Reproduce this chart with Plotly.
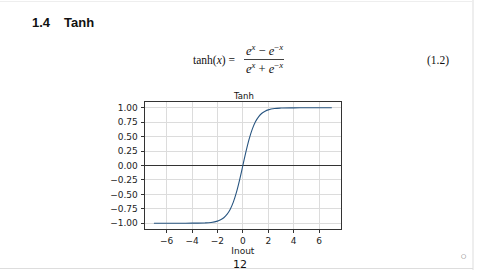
import plotly.graph_objects as go

# Values
x_vals = [-7, -6, -5, -4, -3, -2.5, -2, -1.75, -1.5, -1.25, -1, -0.75, -0.5, -0.25, 0,
          0.25, 0.5, 0.75, 1, 1.25, 1.5, 1.75, 2, 2.5, 3, 4, 5, 6, 7]
y_vals = [-1.0, -1.0, -1.0, -0.999, -0.995, -0.987, -0.964, -0.941, -0.905, -0.848, -0.762,
          -0.635, -0.462, -0.245, 0.0, 0.245, 0.462, 0.635, 0.762, 0.848, 0.905, 0.941,
          0.964, 0.987, 0.995, 0.999, 1.0, 1.0, 1.0]
x_ticks = [-6, -4, -2, 0, 2, 4, 6]
y_ticks = [1.0, 0.75, 0.5, 0.25, 0.0, -0.25, -0.5, -0.75, -1.0]
y_tick_labels = ["1.00", "0.75", "0.50", "0.25", "0.00", "\u22120.25", "\u22120.50", "\u22120.75", "\u22121.00"]
x_tick_labels = ["\u22126", "\u22124", "\u22122", "0", "2", "4", "6"]

W, H = 480, 270
def px(x):
    return x / W
def py(y):
    return 1 - y / H

fig = go.Figure()
fig.add_trace(go.Scatter(x=x_vals, y=y_vals, mode="lines", line=dict(color="#285580", width=1.1, shape="spline"),
                         showlegend=False, hoverinfo="skip"))

tickfont = dict(family="DejaVu Sans", size=9, color="#222")
fig.update_layout(
    width=W, height=H, margin=dict(l=0, r=0, t=0, b=0),
    paper_bgcolor="white", plot_bgcolor="white",
    xaxis=dict(domain=[px(145), px(340.7)], range=[-7.7, 7.7], tickvals=x_ticks, ticktext=x_tick_labels,
               showgrid=True, gridcolor="#dcdcdc", gridwidth=0.8, zeroline=False,
               showline=True, linecolor="#333", linewidth=0.8, mirror=True,
               ticks="outside", ticklen=3.5, tickcolor="#333", tickwidth=0.8,
               tickfont=tickfont,
               title=dict(text="Inout", font=dict(family="DejaVu Sans", size=9, color="#222"), standoff=1)),
    yaxis=dict(domain=[py(229), py(102)], range=[-1.1, 1.1], tickvals=y_ticks, ticktext=y_tick_labels,
               showgrid=True, gridcolor="#dcdcdc", gridwidth=0.8, zeroline=True, zerolinecolor="#333", zerolinewidth=1.3,
               showline=True, linecolor="#333", linewidth=0.8, mirror=True,
               ticks="outside", ticklen=3.5, tickcolor="#333", tickwidth=0.8, ticklabelstandoff=1,
               tickfont=tickfont),
)

ann = []
def text(x, y, s, size, family="DejaVu Sans", color="#111", xanchor="center", bold=False):
    if bold:
        s = "<b>" + s + "</b>"
    ann.append(dict(x=px(x), y=py(y), xref="paper", yref="paper", text=s, showarrow=False,
                    xanchor=xanchor, yanchor="middle", font=dict(family=family, size=size, color=color)))

text(30, 23, "1.4", 13, xanchor="left", bold=True, family="Liberation Sans")
text(62, 23, "Tanh", 13, xanchor="left", bold=True, family="Liberation Sans")
serif = "Liberation Serif"
text(237, 61, "tanh(<i>x</i>) =", 11.5, family=serif, xanchor="right")
text(264, 50, "<i>e</i><sup><i>x</i></sup> \u2212 <i>e</i><sup>\u2212<i>x</i></sup>", 12.5, family=serif)
text(264, 68, "<i>e</i><sup><i>x</i></sup> + <i>e</i><sup>\u2212<i>x</i></sup>", 12.5, family=serif)
text(438, 60, "(1.2)", 11.5, family=serif)
text(243, 96, "Tanh", 8.5)
text(240, 264, "12", 11, family="DejaVu Sans")
text(463, 255, "\u25cb", 6, color="#555")
fig.update_layout(annotations=ann)

fig.add_shape(type="line", xref="paper", yref="paper", x0=px(244), x1=px(284), y0=py(59.5), y1=py(59.5),
              line=dict(color="#111", width=0.8))
# page border
fig.add_shape(type="line", xref="paper", yref="paper", x0=px(473), x1=px(473), y0=py(0), y1=py(270),
              line=dict(color="#dddddd", width=1))
fig.add_shape(type="line", xref="paper", yref="paper", x0=0, x1=px(473), y0=py(1.5), y1=py(1.5),
              line=dict(color="#eeeeee", width=1))
fig.add_shape(type="line", xref="paper", yref="paper", x0=0, x1=px(473), y0=py(268.5), y1=py(268.5),
              line=dict(color="#dddddd", width=1))

fig.write_html("out.html")
